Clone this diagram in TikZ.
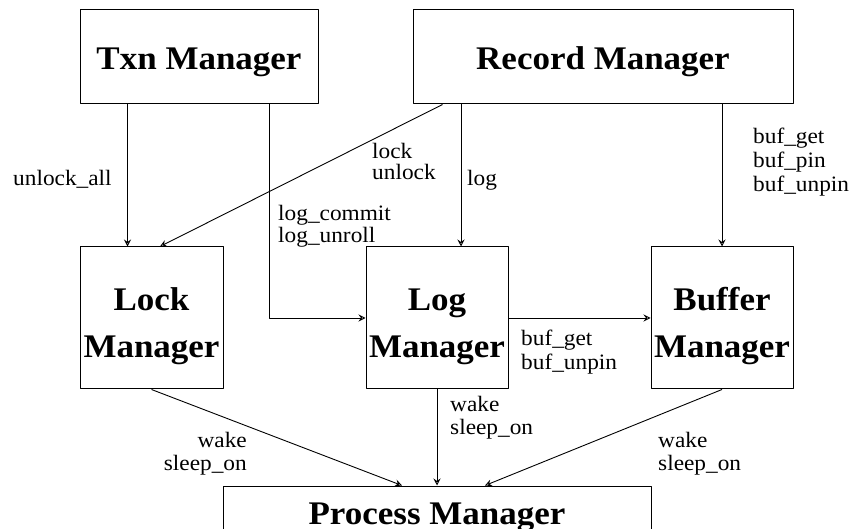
\documentclass[tikz,border=0pt]{standalone}
\usepackage{fontspec}
\setmainfont{Liberation Serif}[FakeStretch=1.06]
\usetikzlibrary{arrows.meta}
\begin{document}
\begin{tikzpicture}[x=1pt, y=-1pt, line join=round, >={Stealth[open,length=7pt,width=7pt,inset=2.5pt]},
  box/.style={draw, line width=1pt, inner sep=0pt, align=center, text depth=0pt, text height=26pt,
    font=\bfseries\fontsize{33}{47}\selectfont},
  lbl/.style={inner sep=0pt, align=left, font=\fontsize{22}{24}\selectfont}]
 \useasboundingbox (0,0) rectangle (852,529);
 % modules
 \node[box, minimum width=238pt, minimum height=94pt] (txn) at (199,57) {Txn Manager};
 \node[box, minimum width=380pt, minimum height=94pt] (rec) at (603,57) {Record Manager};
 \node[box, minimum width=143pt, minimum height=142pt, text height=78.6pt] (lock) at (151.5,318) {Lock\\Manager};
 \node[box, minimum width=142pt, minimum height=142pt, text height=78.6pt] (log) at (437,318) {Log\\Manager};
 \node[box, minimum width=142pt, minimum height=142pt, text height=78.6pt] (buf) at (722,318) {Buffer\\Manager};
 \node[box, minimum width=428pt, minimum height=50pt] (proc) at (437,511) {Process Manager};
 % calls
 \draw[->, line width=.9pt] ([xshift=48pt]txn.south west) -- ([xshift=48pt]lock.north west);
 \draw[->, line width=.9pt] ([xshift=190pt]txn.south west) |- (log.west);
 \draw[->, line width=.9pt] ([xshift=30pt]rec.south west) -- ([xshift=8.5pt]lock.north);
 \draw[->, line width=.9pt] ([xshift=24pt]log.north |- rec.south) -- ([xshift=24pt]log.north);
 \draw[->, line width=.9pt] (buf.north |- rec.south) -- (buf.north);
 \draw[->, line width=.9pt] (log.east) -- (buf.west);
 \draw[->, line width=.9pt] (lock.south) -- ([xshift=-35pt]proc.north);
 \draw[->, line width=.9pt] (log.south) -- (proc.north);
 \draw[->, line width=.9pt] (buf.south) -- ([xshift=48pt]proc.north);
 % labels
 \node[lbl, anchor=base west] (l1) at (13,186) {unlock\_all};
 \node[lbl, anchor=base west] (l2) at (372,180) {lock\\[-3pt]unlock};
 \node[lbl, anchor=base west] (l3) at (278,243) {log\_commit\\[-2pt]log\_unroll};
 \node[lbl, anchor=base west] (l4) at (467,186) {log};
 \node[lbl, anchor=base west] (l5) at (753,192) {buf\_get\\buf\_pin\\buf\_unpin};
 \node[lbl, anchor=base west] (l6) at (521,370) {buf\_get\\buf\_unpin};
 \node[lbl, anchor=base west] (l7) at (450,435) {wake\\sleep\_on};
 \node[lbl, anchor=base east, align=right] (l8) at (247,471) {wake\\sleep\_on};
 \node[lbl, anchor=base west] (l9) at (658,471) {wake\\sleep\_on};
\end{tikzpicture}
\end{document}
